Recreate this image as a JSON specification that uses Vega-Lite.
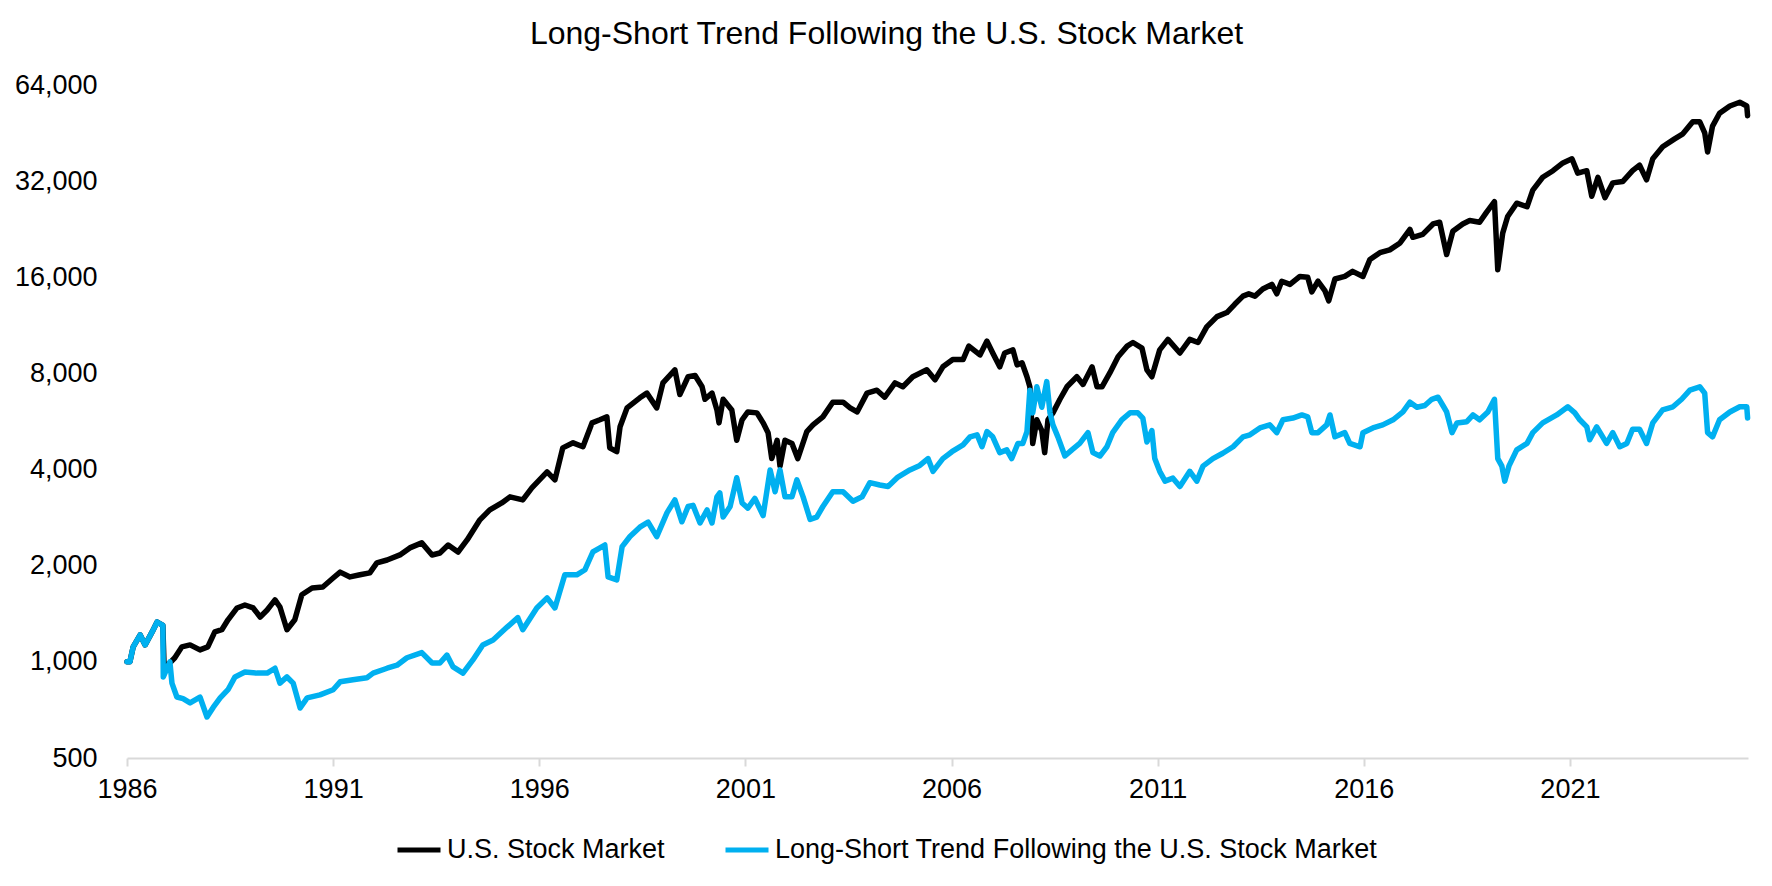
{
  "$schema": "https://vega.github.io/schema/vega-lite/v6.json",
  "autosize": {"type": "none"},
  "width": 1621,
  "height": 673,
  "padding": {"left": 127, "top": 85, "right": 24, "bottom": 128},
  "background": "white",
  "title": {
    "text": "Long-Short Trend Following the U.S. Stock Market",
    "font": "Liberation Sans",
    "fontSize": 32,
    "fontWeight": "normal",
    "color": "#000000",
    "anchor": "middle",
    "dx": -51,
    "offset": 20
  },
  "datasets": {
    "market": [
      {"year": 1986.0, "value": 1000}, {"year": 1986.07, "value": 1000}, {"year": 1986.15, "value": 1114},
      {"year": 1986.32, "value": 1214}, {"year": 1986.44, "value": 1130}, {"year": 1986.61, "value": 1241},
      {"year": 1986.73, "value": 1333}, {"year": 1986.87, "value": 1300}, {"year": 1986.9, "value": 960},
      {"year": 1987.04, "value": 992}, {"year": 1987.16, "value": 1030}, {"year": 1987.33, "value": 1114},
      {"year": 1987.53, "value": 1130}, {"year": 1987.77, "value": 1090}, {"year": 1987.96, "value": 1114},
      {"year": 1988.13, "value": 1241}, {"year": 1988.3, "value": 1261}, {"year": 1988.45, "value": 1354},
      {"year": 1988.67, "value": 1475}, {"year": 1988.86, "value": 1507}, {"year": 1989.06, "value": 1475},
      {"year": 1989.23, "value": 1382}, {"year": 1989.4, "value": 1454}, {"year": 1989.59, "value": 1563},
      {"year": 1989.71, "value": 1485}, {"year": 1989.88, "value": 1261}, {"year": 1990.07, "value": 1354},
      {"year": 1990.24, "value": 1623}, {"year": 1990.49, "value": 1703}, {"year": 1990.75, "value": 1716},
      {"year": 1991.0, "value": 1831}, {"year": 1991.17, "value": 1910}, {"year": 1991.41, "value": 1845},
      {"year": 1991.65, "value": 1873}, {"year": 1991.89, "value": 1900}, {"year": 1992.06, "value": 2040},
      {"year": 1992.31, "value": 2084}, {"year": 1992.62, "value": 2162}, {"year": 1992.86, "value": 2274},
      {"year": 1993.15, "value": 2358}, {"year": 1993.4, "value": 2161}, {"year": 1993.59, "value": 2192},
      {"year": 1993.79, "value": 2322}, {"year": 1994.03, "value": 2208}, {"year": 1994.25, "value": 2408},
      {"year": 1994.56, "value": 2784}, {"year": 1994.8, "value": 2991}, {"year": 1995.09, "value": 3145},
      {"year": 1995.29, "value": 3286}, {"year": 1995.6, "value": 3215}, {"year": 1995.82, "value": 3505},
      {"year": 1996.19, "value": 3933}, {"year": 1996.38, "value": 3714}, {"year": 1996.57, "value": 4678},
      {"year": 1996.82, "value": 4850}, {"year": 1997.06, "value": 4715}, {"year": 1997.28, "value": 5602},
      {"year": 1997.47, "value": 5727}, {"year": 1997.64, "value": 5850}, {"year": 1997.71, "value": 4678},
      {"year": 1997.88, "value": 4550}, {"year": 1997.96, "value": 5447}, {"year": 1998.13, "value": 6241},
      {"year": 1998.44, "value": 6710}, {"year": 1998.61, "value": 6940}, {"year": 1998.85, "value": 6241},
      {"year": 1999.0, "value": 7475}, {"year": 1999.29, "value": 8210}, {"year": 1999.41, "value": 6870},
      {"year": 1999.61, "value": 7810}, {"year": 1999.78, "value": 7880}, {"year": 1999.95, "value": 7265},
      {"year": 2000.02, "value": 6640}, {"year": 2000.19, "value": 6940}, {"year": 2000.31, "value": 6150},
      {"year": 2000.36, "value": 5602}, {"year": 2000.46, "value": 6640}, {"year": 2000.67, "value": 6150},
      {"year": 2000.79, "value": 4940}, {"year": 2000.92, "value": 5727}, {"year": 2001.06, "value": 6060},
      {"year": 2001.28, "value": 6020}, {"year": 2001.43, "value": 5602}, {"year": 2001.55, "value": 5220},
      {"year": 2001.64, "value": 4330}, {"year": 2001.77, "value": 4940}, {"year": 2001.84, "value": 4100},
      {"year": 2001.96, "value": 4940}, {"year": 2002.13, "value": 4830}, {"year": 2002.27, "value": 4330},
      {"year": 2002.49, "value": 5260}, {"year": 2002.64, "value": 5520}, {"year": 2002.88, "value": 5850},
      {"year": 2003.12, "value": 6500}, {"year": 2003.37, "value": 6500}, {"year": 2003.54, "value": 6241},
      {"year": 2003.71, "value": 6060}, {"year": 2003.95, "value": 6940}, {"year": 2004.19, "value": 7090},
      {"year": 2004.38, "value": 6740}, {"year": 2004.63, "value": 7475}, {"year": 2004.82, "value": 7265},
      {"year": 2005.06, "value": 7810}, {"year": 2005.4, "value": 8210}, {"year": 2005.6, "value": 7640},
      {"year": 2005.79, "value": 8390}, {"year": 2006.03, "value": 8840}, {"year": 2006.28, "value": 8840},
      {"year": 2006.42, "value": 9740}, {"year": 2006.69, "value": 9140}, {"year": 2006.86, "value": 10100},
      {"year": 2007.0, "value": 9270}, {"year": 2007.17, "value": 8390}, {"year": 2007.29, "value": 9270},
      {"year": 2007.49, "value": 9480}, {"year": 2007.59, "value": 8510}, {"year": 2007.71, "value": 8640},
      {"year": 2007.83, "value": 7810}, {"year": 2007.9, "value": 7265}, {"year": 2007.97, "value": 4830},
      {"year": 2008.07, "value": 5727}, {"year": 2008.19, "value": 5300}, {"year": 2008.26, "value": 4520},
      {"year": 2008.34, "value": 5727}, {"year": 2008.46, "value": 6020}, {"year": 2008.63, "value": 6640},
      {"year": 2008.8, "value": 7265}, {"year": 2009.04, "value": 7810}, {"year": 2009.19, "value": 7390},
      {"year": 2009.41, "value": 8390}, {"year": 2009.53, "value": 7265}, {"year": 2009.65, "value": 7265},
      {"year": 2009.84, "value": 8030}, {"year": 2010.04, "value": 9020}, {"year": 2010.26, "value": 9740},
      {"year": 2010.4, "value": 10000}, {"year": 2010.62, "value": 9600}, {"year": 2010.74, "value": 8210},
      {"year": 2010.86, "value": 7810}, {"year": 2011.05, "value": 9480}, {"year": 2011.25, "value": 10230},
      {"year": 2011.54, "value": 9270}, {"year": 2011.78, "value": 10230}, {"year": 2011.98, "value": 10000},
      {"year": 2012.19, "value": 11190}, {"year": 2012.44, "value": 12050}, {"year": 2012.68, "value": 12410},
      {"year": 2012.87, "value": 13170}, {"year": 2013.07, "value": 13970}, {"year": 2013.21, "value": 14200},
      {"year": 2013.36, "value": 13970}, {"year": 2013.55, "value": 14700}, {"year": 2013.77, "value": 15200},
      {"year": 2013.89, "value": 14200}, {"year": 2014.01, "value": 15550}, {"year": 2014.21, "value": 15200},
      {"year": 2014.45, "value": 16100}, {"year": 2014.64, "value": 16000}, {"year": 2014.74, "value": 14400},
      {"year": 2014.89, "value": 15550}, {"year": 2015.06, "value": 14500}, {"year": 2015.15, "value": 13500},
      {"year": 2015.3, "value": 15800}, {"year": 2015.54, "value": 16100}, {"year": 2015.73, "value": 16700},
      {"year": 2015.98, "value": 16100}, {"year": 2016.15, "value": 18200}, {"year": 2016.39, "value": 19100},
      {"year": 2016.63, "value": 19500}, {"year": 2016.88, "value": 20500}, {"year": 2017.12, "value": 22600},
      {"year": 2017.19, "value": 21350}, {"year": 2017.43, "value": 21800}, {"year": 2017.68, "value": 23500},
      {"year": 2017.84, "value": 23800}, {"year": 2018.01, "value": 18850}, {"year": 2018.16, "value": 22300},
      {"year": 2018.4, "value": 23500}, {"year": 2018.57, "value": 24100}, {"year": 2018.81, "value": 23800},
      {"year": 2018.98, "value": 25600}, {"year": 2019.17, "value": 27600}, {"year": 2019.25, "value": 16900},
      {"year": 2019.37, "value": 22000}, {"year": 2019.49, "value": 24800}, {"year": 2019.71, "value": 27300},
      {"year": 2019.96, "value": 26600}, {"year": 2020.1, "value": 30000}, {"year": 2020.34, "value": 32900},
      {"year": 2020.59, "value": 34500}, {"year": 2020.83, "value": 36500}, {"year": 2021.05, "value": 37600},
      {"year": 2021.19, "value": 33900}, {"year": 2021.41, "value": 34500}, {"year": 2021.53, "value": 28700},
      {"year": 2021.68, "value": 32900}, {"year": 2021.85, "value": 28400}, {"year": 2022.04, "value": 31600},
      {"year": 2022.28, "value": 31900}, {"year": 2022.52, "value": 34500}, {"year": 2022.69, "value": 35900},
      {"year": 2022.86, "value": 32300}, {"year": 2023.01, "value": 37600}, {"year": 2023.25, "value": 41000},
      {"year": 2023.54, "value": 43400}, {"year": 2023.74, "value": 45000}, {"year": 2023.98, "value": 49100},
      {"year": 2024.15, "value": 49100}, {"year": 2024.27, "value": 45300}, {"year": 2024.34, "value": 39500},
      {"year": 2024.46, "value": 47600}, {"year": 2024.63, "value": 52200}, {"year": 2024.88, "value": 55000},
      {"year": 2025.12, "value": 56500}, {"year": 2025.29, "value": 55000}, {"year": 2025.31, "value": 51300}
    ],
    "trend": [
      {"year": 1986.0, "value": 1000}, {"year": 1986.07, "value": 1000}, {"year": 1986.15, "value": 1114},
      {"year": 1986.32, "value": 1214}, {"year": 1986.44, "value": 1130}, {"year": 1986.61, "value": 1241},
      {"year": 1986.73, "value": 1333}, {"year": 1986.87, "value": 1300}, {"year": 1986.88, "value": 897},
      {"year": 1987.04, "value": 1000}, {"year": 1987.09, "value": 858}, {"year": 1987.21, "value": 776},
      {"year": 1987.36, "value": 767}, {"year": 1987.53, "value": 744}, {"year": 1987.77, "value": 776},
      {"year": 1987.94, "value": 672}, {"year": 1988.09, "value": 720}, {"year": 1988.26, "value": 771},
      {"year": 1988.45, "value": 818}, {"year": 1988.62, "value": 897}, {"year": 1988.86, "value": 929},
      {"year": 1989.15, "value": 922}, {"year": 1989.4, "value": 922}, {"year": 1989.59, "value": 955},
      {"year": 1989.71, "value": 858}, {"year": 1989.88, "value": 897}, {"year": 1990.03, "value": 858},
      {"year": 1990.2, "value": 717}, {"year": 1990.37, "value": 771}, {"year": 1990.68, "value": 788},
      {"year": 1991.0, "value": 818}, {"year": 1991.17, "value": 866}, {"year": 1991.48, "value": 879},
      {"year": 1991.82, "value": 892}, {"year": 1991.97, "value": 922}, {"year": 1992.31, "value": 955},
      {"year": 1992.55, "value": 976}, {"year": 1992.79, "value": 1030}, {"year": 1993.15, "value": 1069},
      {"year": 1993.4, "value": 992}, {"year": 1993.59, "value": 992}, {"year": 1993.76, "value": 1050},
      {"year": 1993.91, "value": 964}, {"year": 1994.15, "value": 922}, {"year": 1994.39, "value": 1014},
      {"year": 1994.63, "value": 1130}, {"year": 1994.88, "value": 1171}, {"year": 1995.22, "value": 1285},
      {"year": 1995.48, "value": 1375}, {"year": 1995.6, "value": 1261}, {"year": 1995.94, "value": 1475},
      {"year": 1996.19, "value": 1586}, {"year": 1996.38, "value": 1475}, {"year": 1996.62, "value": 1873},
      {"year": 1996.91, "value": 1873}, {"year": 1997.11, "value": 1943}, {"year": 1997.3, "value": 2208},
      {"year": 1997.59, "value": 2322}, {"year": 1997.67, "value": 1845}, {"year": 1997.88, "value": 1806},
      {"year": 1998.01, "value": 2295}, {"year": 1998.2, "value": 2468}, {"year": 1998.44, "value": 2640},
      {"year": 1998.64, "value": 2738}, {"year": 1998.85, "value": 2468}, {"year": 1999.1, "value": 2932},
      {"year": 1999.29, "value": 3215}, {"year": 1999.46, "value": 2745}, {"year": 1999.61, "value": 3065},
      {"year": 1999.73, "value": 3090}, {"year": 1999.9, "value": 2723}, {"year": 2000.07, "value": 2990},
      {"year": 2000.19, "value": 2723}, {"year": 2000.31, "value": 3286}, {"year": 2000.38, "value": 3380},
      {"year": 2000.46, "value": 2840}, {"year": 2000.63, "value": 3065}, {"year": 2000.79, "value": 3770},
      {"year": 2000.92, "value": 3145}, {"year": 2001.06, "value": 3030}, {"year": 2001.23, "value": 3250},
      {"year": 2001.43, "value": 2870}, {"year": 2001.6, "value": 3990}, {"year": 2001.72, "value": 3410},
      {"year": 2001.84, "value": 3990}, {"year": 2001.96, "value": 3286}, {"year": 2002.13, "value": 3286},
      {"year": 2002.25, "value": 3714}, {"year": 2002.4, "value": 3286}, {"year": 2002.57, "value": 2792},
      {"year": 2002.73, "value": 2840}, {"year": 2002.88, "value": 3065}, {"year": 2003.12, "value": 3410},
      {"year": 2003.37, "value": 3410}, {"year": 2003.61, "value": 3185}, {"year": 2003.83, "value": 3286},
      {"year": 2004.02, "value": 3640}, {"year": 2004.26, "value": 3580}, {"year": 2004.46, "value": 3540},
      {"year": 2004.7, "value": 3790}, {"year": 2004.99, "value": 3990}, {"year": 2005.23, "value": 4120},
      {"year": 2005.43, "value": 4330}, {"year": 2005.55, "value": 3950}, {"year": 2005.79, "value": 4330},
      {"year": 2006.01, "value": 4550}, {"year": 2006.28, "value": 4780}, {"year": 2006.45, "value": 5065},
      {"year": 2006.62, "value": 5140}, {"year": 2006.74, "value": 4715}, {"year": 2006.86, "value": 5260},
      {"year": 2007.0, "value": 5065}, {"year": 2007.17, "value": 4520}, {"year": 2007.34, "value": 4610},
      {"year": 2007.46, "value": 4330}, {"year": 2007.61, "value": 4830}, {"year": 2007.73, "value": 4830},
      {"year": 2007.83, "value": 5260}, {"year": 2007.9, "value": 7090}, {"year": 2007.97, "value": 6020},
      {"year": 2008.07, "value": 7265}, {"year": 2008.19, "value": 6270}, {"year": 2008.31, "value": 7540},
      {"year": 2008.39, "value": 6020}, {"year": 2008.46, "value": 5520}, {"year": 2008.58, "value": 5065},
      {"year": 2008.75, "value": 4410}, {"year": 2008.92, "value": 4610}, {"year": 2009.11, "value": 4830},
      {"year": 2009.31, "value": 5220}, {"year": 2009.43, "value": 4520}, {"year": 2009.6, "value": 4410},
      {"year": 2009.77, "value": 4715}, {"year": 2009.91, "value": 5220}, {"year": 2010.13, "value": 5727},
      {"year": 2010.33, "value": 6020}, {"year": 2010.52, "value": 6020}, {"year": 2010.64, "value": 5800},
      {"year": 2010.74, "value": 4880}, {"year": 2010.86, "value": 5300}, {"year": 2010.93, "value": 4330},
      {"year": 2011.05, "value": 3950}, {"year": 2011.18, "value": 3680}, {"year": 2011.37, "value": 3760},
      {"year": 2011.54, "value": 3540}, {"year": 2011.78, "value": 3950}, {"year": 2011.95, "value": 3680},
      {"year": 2012.1, "value": 4100}, {"year": 2012.34, "value": 4330}, {"year": 2012.58, "value": 4500},
      {"year": 2012.83, "value": 4715}, {"year": 2013.07, "value": 5065}, {"year": 2013.24, "value": 5140},
      {"year": 2013.48, "value": 5400}, {"year": 2013.72, "value": 5520}, {"year": 2013.89, "value": 5220},
      {"year": 2014.04, "value": 5727}, {"year": 2014.28, "value": 5800}, {"year": 2014.5, "value": 5930},
      {"year": 2014.64, "value": 5850}, {"year": 2014.74, "value": 5220}, {"year": 2014.89, "value": 5220},
      {"year": 2015.1, "value": 5520}, {"year": 2015.18, "value": 5930}, {"year": 2015.3, "value": 5065},
      {"year": 2015.54, "value": 5220}, {"year": 2015.66, "value": 4830}, {"year": 2015.91, "value": 4715},
      {"year": 2015.98, "value": 5220}, {"year": 2016.22, "value": 5400}, {"year": 2016.46, "value": 5520},
      {"year": 2016.71, "value": 5727}, {"year": 2016.95, "value": 6060}, {"year": 2017.12, "value": 6500},
      {"year": 2017.29, "value": 6270}, {"year": 2017.48, "value": 6350}, {"year": 2017.65, "value": 6640},
      {"year": 2017.8, "value": 6740}, {"year": 2017.92, "value": 6350}, {"year": 2018.01, "value": 6060},
      {"year": 2018.14, "value": 5220}, {"year": 2018.26, "value": 5600}, {"year": 2018.5, "value": 5650},
      {"year": 2018.65, "value": 5930}, {"year": 2018.81, "value": 5727}, {"year": 2019.01, "value": 6060},
      {"year": 2019.17, "value": 6640}, {"year": 2019.25, "value": 4330}, {"year": 2019.35, "value": 4100},
      {"year": 2019.42, "value": 3680}, {"year": 2019.52, "value": 4100}, {"year": 2019.71, "value": 4610},
      {"year": 2019.96, "value": 4830}, {"year": 2020.1, "value": 5220}, {"year": 2020.34, "value": 5600},
      {"year": 2020.68, "value": 5930}, {"year": 2020.95, "value": 6290}, {"year": 2021.12, "value": 6020},
      {"year": 2021.24, "value": 5727}, {"year": 2021.41, "value": 5440}, {"year": 2021.48, "value": 4960},
      {"year": 2021.65, "value": 5440}, {"year": 2021.89, "value": 4830}, {"year": 2022.04, "value": 5220},
      {"year": 2022.21, "value": 4715}, {"year": 2022.38, "value": 4830}, {"year": 2022.52, "value": 5350},
      {"year": 2022.69, "value": 5350}, {"year": 2022.86, "value": 4830}, {"year": 2023.01, "value": 5600},
      {"year": 2023.25, "value": 6150}, {"year": 2023.5, "value": 6290}, {"year": 2023.71, "value": 6640},
      {"year": 2023.91, "value": 7090}, {"year": 2024.15, "value": 7265}, {"year": 2024.27, "value": 6940},
      {"year": 2024.34, "value": 5220}, {"year": 2024.46, "value": 5065}, {"year": 2024.63, "value": 5727},
      {"year": 2024.88, "value": 6060}, {"year": 2025.12, "value": 6290}, {"year": 2025.29, "value": 6290},
      {"year": 2025.31, "value": 5800}
    ]
  },
  "encoding": {
    "x": {
      "field": "year",
      "type": "quantitative",
      "scale": {"domain": [1986, 2025.32], "nice": false, "zero": false},
      "axis": {
        "title": null,
        "values": [1986, 1991, 1996, 2001, 2006, 2011, 2016, 2021],
        "format": "d",
        "grid": false,
        "domainColor": "#D9D9D9",
        "domainWidth": 2,
        "tickColor": "#D9D9D9",
        "tickWidth": 2,
        "tickSize": 8,
        "labelPadding": 10,
        "labelFont": "Liberation Sans",
        "labelFontSize": 27,
        "labelColor": "#000000",
        "labelFlush": false
      }
    },
    "y": {
      "field": "value",
      "type": "quantitative",
      "scale": {"type": "log", "base": 2, "domain": [500, 64000], "nice": false},
      "axis": {
        "title": null,
        "values": [500, 1000, 2000, 4000, 8000, 16000, 32000, 64000],
        "format": ",",
        "grid": false,
        "domain": false,
        "ticks": false,
        "labelPadding": 30,
        "labelFont": "Liberation Sans",
        "labelFontSize": 27,
        "labelColor": "#000000"
      }
    },
    "color": {
      "scale": {
        "domain": ["U.S. Stock Market", "Long-Short Trend Following the U.S. Stock Market"],
        "range": ["#000000", "#00B0F0"]
      },
      "legend": {
        "title": null,
        "orient": "none",
        "direction": "horizontal",
        "legendX": 268,
        "legendY": 741,
        "symbolType": "stroke",
        "symbolSize": 1849,
        "symbolStrokeWidth": 5,
        "labelFont": "Liberation Sans",
        "labelFontSize": 27,
        "labelColor": "#000000",
        "labelLimit": 0,
        "labelOffset": 4,
        "columnPadding": 50
      }
    }
  },
  "layer": [
    {
      "data": {"name": "market"},
      "mark": {"type": "line", "strokeWidth": 5.5, "strokeJoin": "round", "strokeCap": "round"},
      "encoding": {"color": {"datum": "U.S. Stock Market"}}
    },
    {
      "data": {"name": "trend"},
      "mark": {"type": "line", "strokeWidth": 5.5, "strokeJoin": "round", "strokeCap": "round"},
      "encoding": {"color": {"datum": "Long-Short Trend Following the U.S. Stock Market"}}
    }
  ],
  "config": {
    "view": {"stroke": null},
    "font": "Liberation Sans"
  }
}
